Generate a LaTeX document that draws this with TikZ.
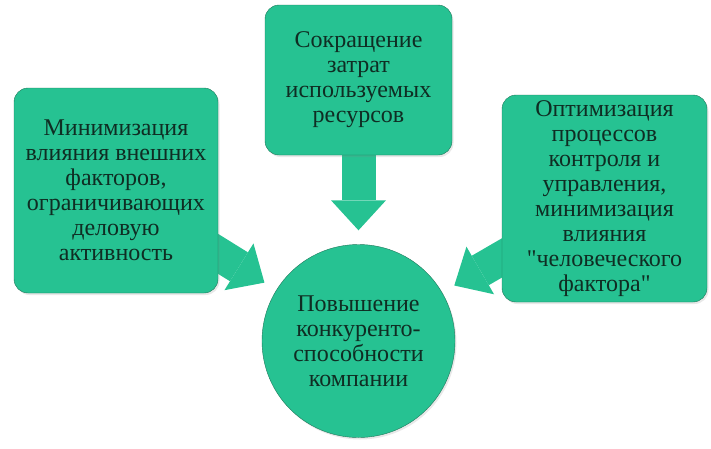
\documentclass[tikz,border=0pt]{standalone}
\usepackage{fontspec}
\newfontfamily\boxfont{LiberationSerif}[Extension=.ttf,UprightFont=*-Regular]
\usepackage{xcolor}
\usepackage{tikz}
\usetikzlibrary{positioning,arrows.meta,shadows,backgrounds}
\definecolor{boxfill}{RGB}{38,194,146}
\definecolor{boxline}{RGB}{30,120,90}
\definecolor{boxtext}{RGB}{15,45,35}

\begin{document}
\begin{tikzpicture}[x=1pt,y=-1pt,
  box/.style={draw=boxline,fill=boxfill,rounded corners=14pt,align=center,
    text=boxtext,font=\boxfont\fontsize{24}{25}\selectfont,inner sep=0pt,
    drop shadow={opacity=0.18,shadow xshift=1.5pt,shadow yshift=-2pt}},
  goal/.style={box,circle,rounded corners=0pt},
  bigarrow/.style={draw=boxfill,line width=34pt,shorten >=14pt,
    -{Triangle[length=30pt,width=55pt,line width=0pt]}}]
  \useasboundingbox (0,0) rectangle (711,448);
  % three causes and the goal
  \node[box,minimum width=204pt,minimum height=205pt] (minim) at (116,190.5)
    {Минимизация\\влияния внешних\\факторов,\\ограничивающих\\деловую\\активность};
  \node[box,minimum width=187pt,minimum height=150pt] (reduce) at (358.5,80)
    {Сокращение\\затрат\\используемых\\ресурсов};
  \node[box,minimum width=205pt,minimum height=207pt] (optim) at (604.5,198.5)
    {Оптимизация\\процессов\\контроля и\\управления,\\минимизация\\влияния\\"человеческого\\фактора"};
  \node[goal,minimum size=193pt] (comp) at (358.5,341)
    {Повышение\\конкуренто-\\способности\\компании};
  % block arrows behind the boxes
  \begin{scope}[on background layer]
    \draw[bigarrow] (minim.center) -- (comp);
    \draw[bigarrow] (reduce.center) -- (comp);
    \draw[bigarrow] (optim.center) -- (comp);
  \end{scope}
\end{tikzpicture}
\end{document}
